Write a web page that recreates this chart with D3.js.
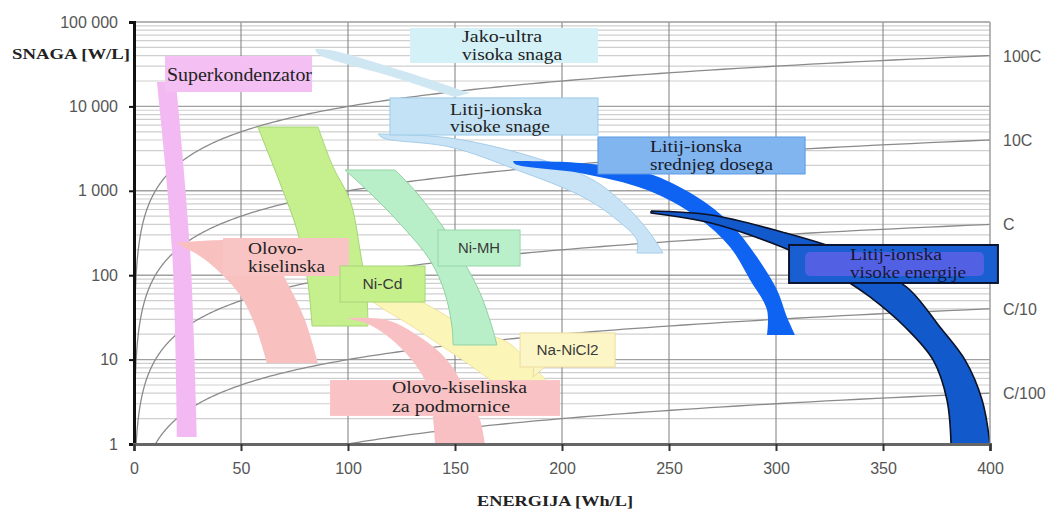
<!DOCTYPE html>
<html>
<head>
<meta charset="utf-8">
<script src="https://cdn.jsdelivr.net/npm/d3@7"></script>
<style>
  html, body { margin: 0; padding: 0; background: #fff; }
  svg { display: block; }
</style>
</head>
<body>
<svg id="chart" width="1051" height="509"></svg>
<script>
// ---------------- DATA ----------------
const energyTicks = [0, 50, 100, 150, 200, 250, 300, 350, 400];
const powerTicks = [1, 10, 100, 1000, 10000, 100000];
const cRates = [100, 10, 1, 0.1, 0.01];
const cRateLabels = ["100C", "10C", "C", "C/10", "C/100"];

// regions: [energy Wh/L, power W/L]
const superkondenzator = [[10.7,19500],[19.6,19500],[26.2,199],[29.4,1.21],[20.1,1.21],[17.8,199]];
const olovoKiselinska = [[19.2,241],[56.5,241],[65.9,143],[72.9,70.5],[79.9,29.5],[86.0,9.1],[62.1,9.1],[56.5,25.7],[49.5,58.3],[37.9,122],[28.5,183]];
const niCd = [[57.9,5700],[86.0,5700],[93.0,1915],[100.9,778],[105.6,199],[108.9,50.8],[109.3,25.0],[83.2,25.0],[81.3,80.9],[76.6,316],[68.2,1237],[61.2,3490]];
const niMH = [[98.6,1763],[122.0,1763],[132.2,942],[144.4,372],[153.7,151],[161.7,61.5],[167.3,24.3],[169.6,14.9],[149.1,14.9],[148.6,24.3],[145.3,61.5],[138.3,151],[125.7,372],[110.3,942]];
const naNiCl2 = [[110.3,50.8],[129.0,53.7],[143.0,36.6],[157.0,22.4],[174.3,16.2],[186.4,8.2],[193.5,5.43],[167.8,5.43],[157.0,8.63],[143.0,14.9],[129.0,25.7],[117.3,38.7]];
const olovoPodmornice = [[98.6,31.1],[118.2,29.5],[133.6,18.5],[146.3,9.9],[156.1,3.81],[161.7,1.93],[164.0,1],[140.7,1],[139.3,2.53],[136.0,5.7],[124.3,14.1],[110.3,25.7]];
const jakoUltra = [[84.6,47900],[91.6,46600],[124.3,27000],[157.0,14400],[150.0,12900],[119.6,22900],[86.0,41800]];
const liIonVisokeSnage = [[114.0,4710],[147.7,4220],[186.4,2515],[214.5,1343],[230.4,643],[241.1,316],[247.2,183],[235.0,183],[235.0,261],[225.7,451],[209.8,845],[179.0,1763],[147.7,3300],[116.4,4220]];
const liIonSrednjeg = [[177.1,2255],[208.4,2135],[239.7,1625],[263.1,845],[278.5,415],[291.1,164],[300.5,66.8],[305.1,32.0],[308.9,19.6],[295.8,19.6],[295.8,38.7],[287.9,87.7],[278.5,216],[263.1,490],[239.7,1022],[208.4,1625],[178.0,2080]];
const liIonVisokeEnergije = [[241.6,576],[269.6,517],[302.8,325],[329.9,199],[348.6,115],[362.6,66.8],[376.6,24.3],[388.3,9.9],[396.3,3.32],[400,1],[381.8,1],[379.9,3.32],[373.4,9.9],[360.3,24.3],[343.9,55.2],[332.2,87.7],[311.2,173],[302.8,216],[269.6,415],[241.6,546]];

// label texts and their box extents: [E0, E1, Ptop, Pbottom]
const labelTexts = [
  ["Superkondenzator"], ["Olovo-", "kiselinska"], ["Ni-Cd"], ["Ni-MH"], ["Na-NiCl2"],
  ["Olovo-kiselinska", "za podmornice"], ["Jako-ultra", "visoka snaga"],
  ["Litij-ionska", "visoke snage"], ["Litij-ionska", "srednjeg dosega"], ["Litij-ionska", "visoke energije"]
];
const labelExtents = [
  [14.5, 83.2, 39500, 14800], [41.6, 100.5, 276, 97.9], [96.3, 136.0, 128.5, 48.1],
  [142.1, 180.4, 343, 128.5], [180.4, 224.8, 20.7, 8.17], [91.6, 199.1, 5.72, 2.15],
  [129.0, 216.8, 84900, 32700], [119.6, 216.8, 12600, 4580], [216.8, 313.6, 4340, 1582],
  [306.1, 403.7, 228, 80.9]
];

// ---------------- CHART ----------------
const svg = d3.select("#chart");
const L = 134, R = 990, T = 22, B = 444;
const x = d3.scaleLinear().domain([0, 400]).range([L, R]);
const y = d3.scaleLog().domain([1, 100000]).range([B, T]);
const serif = "'Liberation Serif','Times New Roman',serif";
const sans = "'Liberation Sans',Arial,sans-serif";

svg.append("defs").append("clipPath").attr("id", "plotclip")
  .append("rect").attr("x", L).attr("y", T).attr("width", R - L).attr("height", B - T);

// minor horizontal grid
const minor = [];
for (let d = 1; d < 100000; d *= 10) for (let k = 2; k <= 9; k++) minor.push(d * k);
svg.append("g").selectAll("line").data(minor).join("line")
  .attr("x1", L).attr("x2", R).attr("y1", d => y(d)).attr("y2", d => y(d))
  .attr("stroke", "#cfcfcf").attr("stroke-width", 1.2);
// major horizontal grid
svg.append("g").selectAll("line").data(powerTicks).join("line")
  .attr("x1", L).attr("x2", R).attr("y1", d => y(d)).attr("y2", d => y(d))
  .attr("stroke", "#a0a0a0").attr("stroke-width", 1.4);
// vertical grid
svg.append("g").selectAll("line").data(energyTicks.slice(1)).join("line")
  .attr("x1", d => x(d)).attr("x2", d => x(d)).attr("y1", T).attr("y2", B)
  .attr("stroke", "#7d7d7d").attr("stroke-width", 1);

// C-rate curves
const eSamples = d3.range(-3, 2.6021, 0.01).map(v => Math.pow(10, v)).concat([400]);
const curveLine = d3.line().x(d => x(d[0])).y(d => y(d[1]));
const cg = svg.append("g").attr("clip-path", "url(#plotclip)");
cRates.forEach(r => {
  const pts = eSamples.map(e => [e, r * e]).filter(p => p[1] >= 0.5 && p[1] <= 200000);
  cg.append("path").attr("d", curveLine(pts)).attr("fill", "none")
    .attr("stroke", "#8a8a8a").attr("stroke-width", 1.3);
});
svg.append("g").selectAll("text").data(cRates).join("text")
  .attr("x", 1003).attr("y", d => y(d * 400) + 6)
  .attr("font-family", sans).attr("font-size", 16).attr("fill", "#555")
  .text((d, i) => cRateLabels[i]);

// regions (smooth outlines; listed vertex indices are kept as sharp corners)
const smooth = d3.line().x(d => x(d[0])).y(d => y(d[1])).curve(d3.curveCatmullRomClosed.alpha(0.5));
function withCorners(pts, corners) {
  const out = [];
  pts.forEach((p, i) => { out.push(p); if (corners.includes(i)) { out.push(p); out.push(p); } });
  return out;
}
const rg = svg.append("g").attr("clip-path", "url(#plotclip)");
const regionDefs = [
  [superkondenzator, [0, 1, 3, 4], "#f3b9f3", "none", 0],
  [olovoKiselinska, [0, 5, 6], "#f8c1c0", "none", 0],
  [niCd, [0, 1, 6, 7], "#c6f08e", "#a6d474", 1],
  [naNiCl2, [0, 6, 7], "#fcf5b8", "#efe3a0", 1],
  [niMH, [0, 1, 7, 8], "#b8efc8", "#90d2a2", 1],
  [olovoPodmornice, [0, 6, 7], "#f8c0c3", "none", 0],
  [jakoUltra, [0, 3, 4], "#cfe7f3", "none", 0],
  [liIonVisokeSnage, [0, 6, 7], "#c8e3f5", "#a5cde9", 1],
  [liIonSrednjeg, [0, 8, 9], "#0f63f2", "none", 0],
  [liIonVisokeEnergije, [0, 9, 10, 19], "#1259cc", "#0b1226", 1.6]
];
regionDefs.forEach(([pts, corners, fill, stroke, sw]) => {
  rg.append("path").attr("d", smooth(withCorners(pts, corners))).attr("fill", fill)
    .attr("stroke", stroke).attr("stroke-width", sw).attr("stroke-linejoin", "round");
});

// plot border (top/right)
svg.append("line").attr("x1", L).attr("x2", R).attr("y1", T).attr("y2", T).attr("stroke", "#b0b0b0");
svg.append("line").attr("x1", R).attr("x2", R).attr("y1", T).attr("y2", B).attr("stroke", "#b0b0b0");

// label boxes
const boxStyles = [
  {fill: "#f4c0f4", stroke: "none", font: serif, size: 18, dx: 2, dy: [25], widths: [145], color: "#222"},
  {fill: "#f9c4c4", stroke: "none", font: serif, size: 17, dx: 25, dy: [16, 34], widths: [55, 77], color: "#222"},
  {fill: "#c6f08c", stroke: "#a8d57a", font: sans, size: 14, center: true, widths: [40], color: "#3a3a3a"},
  {fill: "#b9f0c9", stroke: "#98d6aa", font: sans, size: 14, center: true, widths: [42], color: "#3a3a3a"},
  {fill: "#fcf6c6", stroke: "#ecdba0", font: sans, size: 14, center: true, widths: [62], color: "#3a3a3a", tail: true},
  {fill: "#f9c3c6", stroke: "none", font: serif, size: 17, dx: 62, dy: [13, 32], widths: [135, 118], color: "#222"},
  {fill: "#d4f1f8", stroke: "none", font: serif, size: 17, dx: 52, dy: [14, 32], widths: [80, 100], color: "#222"},
  {fill: "#c4e2f5", stroke: "#9ccbe9", font: serif, size: 17, dx: 60, dy: [17, 34], widths: [92, 100], color: "#222"},
  {fill: "#80b5f0", stroke: "#5b9be4", font: serif, size: 17, dx: 52, dy: [15, 33], widths: [92, 123], color: "#1a1a2a"},
  {fill: "#1a5fd2", stroke: "#0a1430", sw: 2, font: serif, size: 17, dx: 61, dy: [15, 33], widths: [92, 116], color: "#141836", inner: "#5d62e6"}
];
const lg = svg.append("g");
labelExtents.forEach((ext, i) => {
  const st = boxStyles[i];
  const x0 = x(ext[0]), x1 = x(ext[1]), y0 = y(ext[2]), y1 = y(ext[3]);
  if (st.tail) {
    lg.append("path")
      .attr("d", `M${x0 + 14},${y1 - 2} L${x0 + 27},${y1 - 2} L${x0 + 13},${y1 + 10} Z`)
      .attr("fill", st.fill).attr("stroke", st.stroke);
  }
  lg.append("rect").attr("x", x0).attr("y", y0).attr("width", x1 - x0).attr("height", y1 - y0)
    .attr("fill", st.fill).attr("stroke", st.stroke).attr("stroke-width", st.sw || 1);
  if (st.inner) {
    lg.append("rect").attr("x", x0 + 16).attr("y", y0 + 7).attr("width", x1 - x0 - 30).attr("height", y1 - y0 - 14)
      .attr("rx", 5).attr("fill", st.inner).attr("opacity", 0.85);
  }
  labelTexts[i].forEach((t, j) => {
    const tx = lg.append("text").attr("font-family", st.font).attr("font-size", st.size)
      .attr("fill", st.color).attr("textLength", st.widths[j]).attr("lengthAdjust", "spacingAndGlyphs")
      .text(t);
    if (st.center) {
      tx.attr("x", (x0 + x1) / 2).attr("y", (y0 + y1) / 2 + 5).attr("text-anchor", "middle");
    } else {
      tx.attr("x", x0 + st.dx).attr("y", y0 + st.dy[j]);
    }
  });
});

// axes
const fmt = d3.formatLocale({decimal: ",", thousands: " ", grouping: [3], currency: ["", ""]}).format(",");
const yAxis = svg.append("g").attr("transform", `translate(${L},0)`)
  .call(d3.axisLeft(y).tickValues(powerTicks).tickFormat(fmt).tickSize(5).tickPadding(11));
yAxis.select(".domain").attr("stroke", "#111").attr("stroke-width", 3);
yAxis.selectAll(".tick line").attr("stroke", "#111").attr("stroke-width", 2);
yAxis.selectAll(".tick text").attr("font-family", sans).attr("font-size", 16).attr("fill", "#555");

const xAxis = svg.append("g").attr("transform", `translate(0,${B})`)
  .call(d3.axisBottom(x).tickValues(energyTicks).tickSize(7).tickPadding(12));
xAxis.select(".domain").attr("stroke", "#666").attr("stroke-width", 3);
xAxis.selectAll(".tick line").attr("stroke", "#333").attr("stroke-width", 2);
xAxis.selectAll(".tick text").attr("font-family", sans).attr("font-size", 16).attr("fill", "#555");

// axis titles
svg.append("text").attr("x", 12).attr("y", 59).attr("font-family", serif).attr("font-weight", "bold")
  .attr("font-size", 15).attr("fill", "#222").attr("textLength", 118).attr("lengthAdjust", "spacingAndGlyphs")
  .text("SNAGA [W/L]");
svg.append("text").attr("x", 477).attr("y", 506).attr("font-family", serif).attr("font-weight", "bold")
  .attr("font-size", 15).attr("fill", "#222").attr("textLength", 156).attr("lengthAdjust", "spacingAndGlyphs")
  .text("ENERGIJA [Wh/L]");
</script>
</body>
</html>
